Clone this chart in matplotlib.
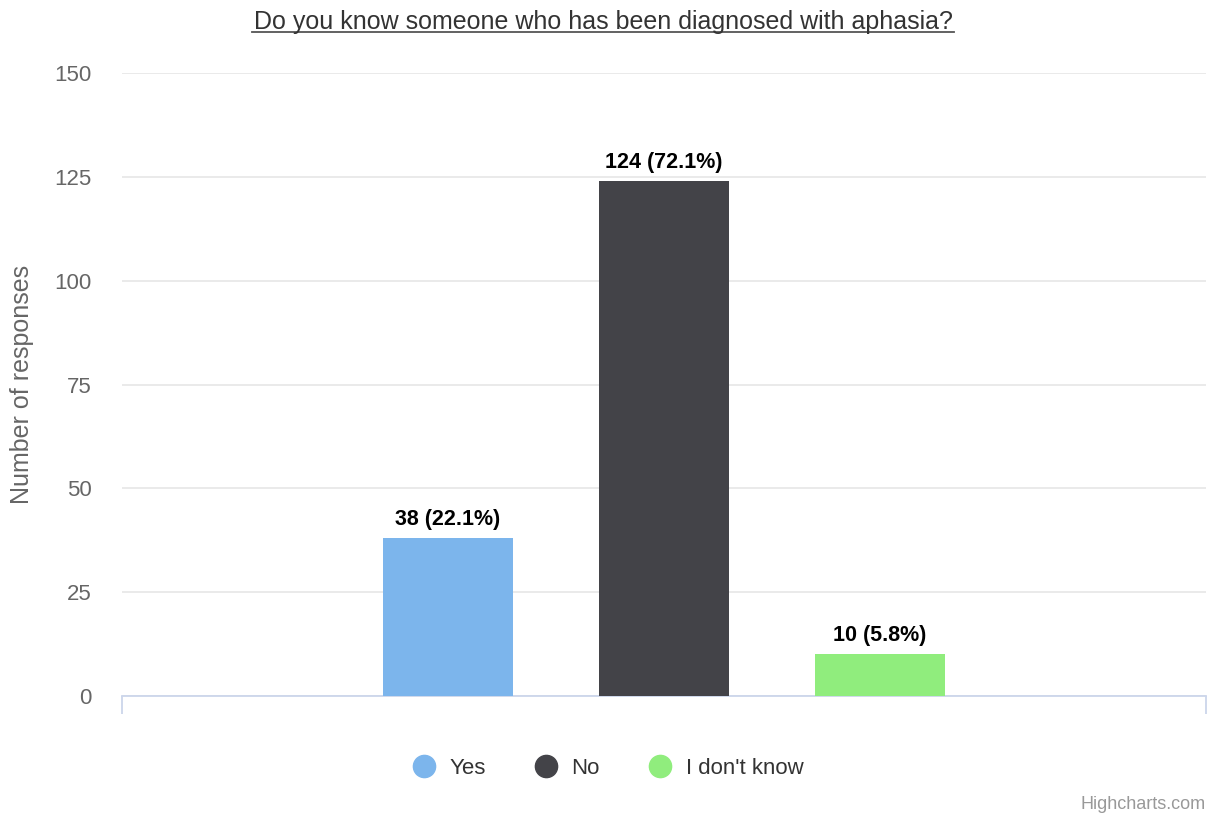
import matplotlib.pyplot as plt
from matplotlib.lines import Line2D
import numpy as np

plt.rcParams['font.family'] = ['Liberation Sans', 'DejaVu Sans']

# data
answers = ['Yes', 'No', "I don't know"]
counts = [38, 124, 10]
percents = [22.1, 72.1, 5.8]
colors = ['#7cb5ec', '#434348', '#90ed7d']
yticks = [0, 25, 50, 75, 100, 125, 150]

fig = plt.figure(figsize=(12.16, 8.13), dpi=100)
W, H = 1216, 813
ax = fig.add_axes([122 / W, (H - 696) / H, 1084 / W, 623 / H])

# one category, three series side by side
x = np.arange(len(answers)) - (len(answers) - 1) / 2
bars = ax.bar(x, counts, width=0.602, color=colors, zorder=3)

for xi, c, p in zip(x, counts, percents):
    ax.annotate(f'{c} ({p}%)', (xi, c), xytext=(0, 6), textcoords='offset points',
                ha='center', va='bottom', fontsize=15.5, fontweight='bold', color='#000000')

half = 542 / 216
ax.set_xlim(-half, half)
ax.set_ylim(0, 150)
ax.set_yticks(yticks)
ax.yaxis.grid(True, color='#e6e6e6', linewidth=1.2, zorder=0)
ax.tick_params(axis='y', length=0, labelsize=16, labelcolor='#666666', pad=22)
ax.set_xticks([-half, half])
ax.set_xticklabels(['', ''])
ax.tick_params(axis='x', length=13, color='#ccd6eb', width=1.3, direction='out')
for s in ['left', 'right', 'top']:
    ax.spines[s].set_visible(False)
ax.spines['bottom'].set_color('#ccd6eb')
ax.spines['bottom'].set_linewidth(1.3)

fig.text(22 / W, 1 - 384 / H, 'Number of responses', rotation=90, ha='center', va='center',
         fontsize=18, color='#666666')

# title with underline
fig.text(603 / W, 1 - 29.5 / H, 'Do you know someone who has been diagnosed with aphasia?',
         ha='center', va='baseline', fontsize=18, color='#333333')
fig.add_artist(Line2D([252 / W, 954 / W], [1 - 32.5 / H, 1 - 32.5 / H], color='#555555', linewidth=1.3))

handles = [Line2D([], [], marker='o', linestyle='', markersize=16, color=c) for c in colors]
fig.legend(handles, answers, loc='center', bbox_to_anchor=(607 / W, 1 - 768 / H), ncol=3,
           frameon=False, fontsize=16, labelcolor='#333333', handletextpad=0.55,
           columnspacing=2.1, handlelength=1.2)

fig.text(1206 / W, 1 - 804 / H, 'Highcharts.com', ha='right', va='center', fontsize=13, color='#999999')

fig.savefig('out.png', dpi=100)
